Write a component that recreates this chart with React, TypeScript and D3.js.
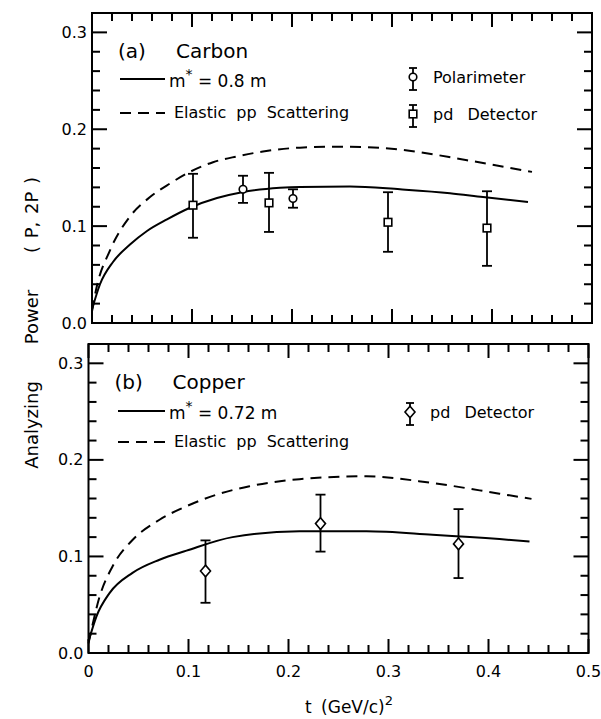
import React, { useEffect, useRef } from 'react';
import * as d3 from 'd3';

const W = 601;
const H = 719;
const FONT = "'DejaVu Sans', 'Liberation Sans', sans-serif";

// (a) Carbon: theory curves
const carbonSolidT = [0, 0.008, 0.021, 0.038, 0.055, 0.075, 0.098, 0.125, 0.15, 0.188, 0.208, 0.258, 0.308, 0.358, 0.391, 0.436];
const carbonSolidY = [0.014, 0.04, 0.063, 0.081, 0.095, 0.107, 0.119, 0.129, 0.135, 0.1395, 0.1405, 0.141, 0.138, 0.134, 0.13, 0.125];
const carbonDashT = [0, 0.004, 0.018, 0.038, 0.058, 0.078, 0.098, 0.121, 0.145, 0.171, 0.208, 0.25, 0.308, 0.375, 0.44];
const carbonDashY = [0.012, 0.034, 0.075, 0.11, 0.13, 0.144, 0.156, 0.166, 0.172, 0.177, 0.181, 0.182, 0.179, 0.168, 0.156];

// (a) Carbon: measurements
const polT = [0.151, 0.201];
const polY = [0.138, 0.1285];
const polLo = [0.124, 0.119];
const polHi = [0.152, 0.138];

const pdCarbonT = [0.101, 0.177, 0.296, 0.395];
const pdCarbonY = [0.1216, 0.124, 0.104, 0.098];
const pdCarbonLo = [0.088, 0.094, 0.0735, 0.059];
const pdCarbonHi = [0.154, 0.155, 0.135, 0.136];

// (b) Copper: theory curves
const copperSolidT = [0, 0.008, 0.021, 0.044, 0.071, 0.098, 0.144, 0.211, 0.278, 0.344, 0.411, 0.441];
const copperSolidY = [0.012, 0.038, 0.062, 0.083, 0.0966, 0.106, 0.12, 0.126, 0.126, 0.1225, 0.118, 0.1155];
const copperDashT = [0, 0.011, 0.024, 0.044, 0.071, 0.098, 0.128, 0.161, 0.211, 0.278, 0.344, 0.411, 0.443];
const copperDashY = [0.01, 0.058, 0.0896, 0.117, 0.138, 0.152, 0.164, 0.1727, 0.18, 0.183, 0.176, 0.165, 0.1596];

// (b) Copper: measurements
const pdCopperT = [0.117, 0.232, 0.37];
const pdCopperY = [0.085, 0.134, 0.113];
const pdCopperLo = [0.052, 0.105, 0.0776];
const pdCopperHi = [0.1166, 0.164, 0.149];

const xMajor = [0, 0.1, 0.2, 0.3, 0.4, 0.5];
const xLabels = ['0', '0.1', '0.2', '0.3', '0.4', '0.5'];
const yMajor = [0, 0.1, 0.2, 0.3];
const yLabels = ['0.0', '0.1', '0.2', '0.3'];
const yTitleWords = ['Analyzing', 'Power', '( P, 2P )'];

const zip = (a, b) => a.map((v, i) => [v, b[i]]);

const isMajor = (v) => Math.abs(v * 10 - Math.round(v * 10)) < 1e-6;

function drawMarker(g, kind, cx, cy) {
  if (kind === 'circle') {
    g.append('circle').attr('cx', cx).attr('cy', cy).attr('r', 3.8)
      .attr('fill', '#fff').attr('stroke', '#000').attr('stroke-width', 1.6);
  } else if (kind === 'square') {
    g.append('rect').attr('x', cx - 3.8).attr('y', cy - 3.8).attr('width', 7.6).attr('height', 7.6)
      .attr('fill', '#fff').attr('stroke', '#000').attr('stroke-width', 1.6);
  } else {
    g.append('path').attr('d', `M${cx},${cy - 5.8}L${cx + 5},${cy}L${cx},${cy + 5.8}L${cx - 5},${cy}Z`)
      .attr('fill', '#fff').attr('stroke', '#000').attr('stroke-width', 1.6);
  }
}

function drawErr(g, cx, y1, y2, cap) {
  g.append('line').attr('x1', cx).attr('x2', cx).attr('y1', y1).attr('y2', y2)
    .attr('stroke', '#000').attr('stroke-width', 1.8);
  [y1, y2].forEach((yy) => {
    g.append('line').attr('x1', cx - cap).attr('x2', cx + cap).attr('y1', yy).attr('y2', yy)
      .attr('stroke', '#000').attr('stroke-width', 1.8);
  });
}

function drawPanel(svg, p) {
  const x = d3.scaleLinear().domain([0, 0.5]).range([p.left, p.right]);
  const y = d3.scaleLinear().domain([0, 0.32]).range([p.bottom, p.top]);
  const g = svg.append('g');

  yMajor.forEach((v, i) => {
    g.append('text').attr('x', p.left - 5).attr('y', y(v)).attr('dy', '0.35em')
      .attr('text-anchor', 'end').attr('font-family', FONT).attr('font-size', 16)
      .attr('fill', '#000').text(yLabels[i]);
  });
  if (p.xLabels) {
    xMajor.forEach((v, i) => {
      g.append('text').attr('x', x(v)).attr('y', p.bottom + 24)
        .attr('text-anchor', 'middle').attr('font-family', FONT).attr('font-size', 16)
        .attr('fill', '#000').text(xLabels[i]);
    });
  }

  const line = d3.line().x((d) => x(d[0])).y((d) => y(d[1])).curve(d3.curveMonotoneX);

  g.append('path').datum(zip(p.dashT, p.dashY)).attr('d', line)
    .attr('fill', 'none').attr('stroke', '#000').attr('stroke-width', 2)
    .attr('stroke-dasharray', '11,7');
  g.append('path').datum(zip(p.solidT, p.solidY)).attr('d', line)
    .attr('fill', 'none').attr('stroke', '#000').attr('stroke-width', 2);

  p.series.forEach((s) => {
    s.t.forEach((t, i) => {
      drawErr(g, x(t), y(s.hi[i]), y(s.lo[i]), 5);
      drawMarker(g, s.kind, x(t), y(s.y[i]));
    });
  });

  // legend
  const txt = (tx, ty, size, str) => g.append('text').attr('x', tx).attr('y', ty)
    .attr('font-family', FONT).attr('font-size', size).attr('fill', '#000').text(str);

  txt(p.left + 26, p.top + 45, 20, p.tag);
  txt(p.left + 84, p.top + 45, 20, p.material);

  const L = p.legend;
  g.append('line').attr('x1', L.lx1).attr('x2', L.lx2).attr('y1', L.y1).attr('y2', L.y1)
    .attr('stroke', '#000').attr('stroke-width', 2);
  const m = g.append('text').attr('x', L.lx2 + 4).attr('y', L.y1 + 8)
    .attr('font-family', FONT).attr('font-size', 17).attr('fill', '#000');
  m.append('tspan').text('m');
  m.append('tspan').attr('dy', -8).attr('font-size', 14).text('*');
  m.append('tspan').attr('dy', 8).text(` = ${p.mstar} m`);

  g.append('line').attr('x1', L.lx1).attr('x2', L.lx2).attr('y1', L.y2).attr('y2', L.y2)
    .attr('stroke', '#000').attr('stroke-width', 2).attr('stroke-dasharray', '11,7');
  txt(L.lx2 + 9, L.y2 + 5, 16, 'Elastic pp Scattering').attr('word-spacing', 5);

  L.markers.forEach((mk) => {
    drawErr(g, L.mx, mk.y - 9, mk.y + 13, 4);
    drawMarker(g, mk.kind, L.mx, mk.y);
    txt(L.mx + 20, mk.y + 6, 16, mk.label).attr('word-spacing', 9);
  });

  // frame
  g.append('rect').attr('x', p.left).attr('y', p.top)
    .attr('width', p.right - p.left).attr('height', p.bottom - p.top)
    .attr('fill', 'none').attr('stroke', '#000').attr('stroke-width', 2);

  // tick marks pointing inwards on all four sides
  const xTicks = d3.range(0, 0.501, 0.02);
  const yTicks = d3.range(0, 0.321, 0.02);
  xTicks.forEach((v) => {
    const len = isMajor(v) ? 14 : 8;
    const px = x(v);
    g.append('rect').attr('x', px - 1).attr('y', p.bottom - len).attr('width', 2).attr('height', len).attr('fill', '#000');
    g.append('rect').attr('x', px - 1).attr('y', p.top).attr('width', 2).attr('height', len).attr('fill', '#000');
  });
  yTicks.forEach((v) => {
    const len = isMajor(v) ? 15 : 8;
    const py = y(v);
    g.append('rect').attr('x', p.left).attr('y', py - 1).attr('width', len).attr('height', 2).attr('fill', '#000');
    g.append('rect').attr('x', p.right - len).attr('y', py - 1).attr('width', len).attr('height', 2).attr('fill', '#000');
  });
}

export default function App() {
  const ref = useRef(null);

  useEffect(() => {
    const svg = d3.select(ref.current);
    svg.selectAll('*').remove();

    drawPanel(svg, {
      left: 92, right: 592, top: 13, bottom: 323, xLabels: false,
      tag: '(a)', material: 'Carbon', mstar: '0.8',
      solidT: carbonSolidT, solidY: carbonSolidY, dashT: carbonDashT, dashY: carbonDashY,
      series: [
        { kind: 'square', t: pdCarbonT, y: pdCarbonY, lo: pdCarbonLo, hi: pdCarbonHi },
        { kind: 'circle', t: polT, y: polY, lo: polLo, hi: polHi },
      ],
      legend: {
        lx1: 120, lx2: 165, y1: 79, y2: 113, mx: 413,
        markers: [
          { kind: 'circle', y: 77, label: 'Polarimeter' },
          { kind: 'square', y: 114, label: 'pd Detector' },
        ],
      },
    });

    drawPanel(svg, {
      left: 88.5, right: 588.5, top: 344, bottom: 653, xLabels: true,
      tag: '(b)', material: 'Copper', mstar: '0.72',
      solidT: copperSolidT, solidY: copperSolidY, dashT: copperDashT, dashY: copperDashY,
      series: [
        { kind: 'diamond', t: pdCopperT, y: pdCopperY, lo: pdCopperLo, hi: pdCopperHi },
      ],
      legend: {
        lx1: 118, lx2: 165, y1: 411, y2: 442, mx: 410,
        markers: [
          { kind: 'diamond', y: 412, label: 'pd Detector' },
        ],
      },
    });

    // axis titles
    const xt = svg.append('text').attr('x', 305).attr('y', 713)
      .attr('font-family', FONT).attr('font-size', 17).attr('fill', '#000');
    xt.append('tspan').text('t (GeV/c)').attr('word-spacing', 4);
    xt.append('tspan').attr('dy', -8).attr('font-size', 13).text('2');

    const yCenters = [425, 317, 215];
    yTitleWords.forEach((w, i) => {
      svg.append('text').attr('transform', `translate(38,${yCenters[i]}) rotate(-90)`)
        .attr('text-anchor', 'middle').attr('font-family', FONT).attr('font-size', 18)
        .attr('fill', '#000').attr('word-spacing', 2)
        .text(w);
    });
  }, []);

  return (
    <div style={{ position: 'absolute', left: 0, top: 0, width: W, height: H, background: '#fff' }}>
      <svg ref={ref} width={W} height={H} style={{ display: 'block' }}></svg>
    </div>
  );
}
